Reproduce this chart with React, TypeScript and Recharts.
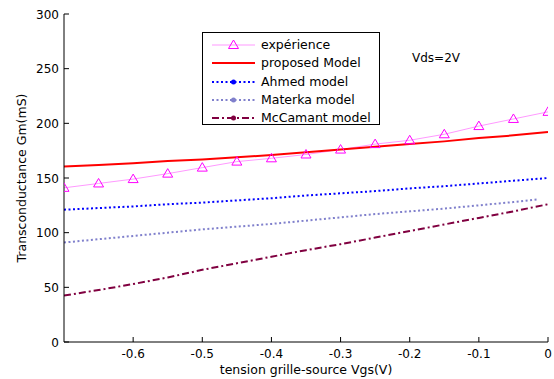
import { LineChart, Line, XAxis, YAxis, Legend } from 'recharts';

const FONT = '"DejaVu Sans", Arial, sans-serif';

// Vgs (V) sample points
const vgs = [-0.7, -0.65, -0.6, -0.55, -0.5, -0.45, -0.4, -0.35, -0.3, -0.25, -0.2, -0.15, -0.1, -0.05, 0];
const materkaVgs = [-0.7, -0.65, -0.6, -0.55, -0.5, -0.45, -0.4, -0.35, -0.3, -0.25, -0.2, -0.15, -0.1, -0.05, -0.015];

// Gm (mS)
const experience = [141, 145, 149, 154, 159.5, 165, 168, 171.5, 176, 181, 184.5, 190, 197.5, 204, 210.5];
const proposed = [160.5, 162, 163.5, 165.5, 167, 169, 171, 173.5, 176, 178.5, 181, 183.5, 186.5, 189, 192];
const ahmed = [121, 122.5, 124, 126, 127.5, 129.5, 131.5, 134, 136, 138, 140.5, 142.5, 145, 147.5, 150];
const materka = [91, 94, 97, 100, 103, 105.5, 108, 111, 114, 117, 119.5, 122, 125, 128, 130.5];
const mccamant = [42.5, 47.5, 53, 59, 66, 72, 78, 84, 89.5, 95.5, 101.5, 107.5, 113.5, 119.5, 126];

const xTicks = [-0.6, -0.5, -0.4, -0.3, -0.2, -0.1, 0];
const yTicks = [0, 50, 100, 150, 200, 250, 300];

const toPoints = (xs: number[], ys: number[]) => xs.map((x, i) => ({ x, y: ys[i] }));

const series = [
  { name: 'expérience', color: '#ff99ff', mark: '#ff00ff', width: 1, dash: undefined, marker: 'tri', data: toPoints(vgs, experience) },
  { name: 'proposed Model', color: '#ff0000', mark: '', width: 2, dash: undefined, marker: 'none', data: toPoints(vgs, proposed) },
  { name: 'Ahmed model', color: '#0000ff', mark: '#0000ff', width: 2, dash: '2 2.5', marker: 'dot', data: toPoints(vgs, ahmed) },
  { name: 'Materka model', color: '#8080cc', mark: '#8080cc', width: 2, dash: '2 2.5', marker: 'dot', data: toPoints(materkaVgs, materka) },
  { name: 'McCamant model', color: '#800040', mark: '#800040', width: 2, dash: '7 3 2 3', marker: 'dot', data: toPoints(vgs, mccamant) },
];

const Triangle = (props: any) => {
  const { cx, cy, stroke } = props;
  if (cx == null || cy == null) return null;
  return (
    <path
      d={`M${cx},${cy - 5} L${cx + 5},${cy + 3.5} L${cx - 5},${cy + 3.5} Z`}
      fill="none"
      stroke={stroke}
      strokeWidth={1}
    />
  );
};

const BottomTick = (props: any) => {
  const { x, y, payload } = props;
  return (
    <g>
      <line x1={x} y1={y} x2={x} y2={y - 5} stroke="#000" />
      <text x={x} y={y + 16} textAnchor="middle" fontSize={12} fontFamily={FONT} fill="#000">
        {String(payload.value)}
      </text>
    </g>
  );
};

const TopTick = (props: any) => {
  const { x, y } = props;
  return <line x1={x} y1={y} x2={x} y2={y + 5} stroke="#000" />;
};

const LeftTick = (props: any) => {
  const { x, y, payload } = props;
  return (
    <g>
      <line x1={x} y1={y} x2={x + 5} y2={y} stroke="#000" />
      <text x={x - 5} y={y + 4.5} textAnchor="end" fontSize={12} fontFamily={FONT} fill="#000">
        {String(payload.value)}
      </text>
    </g>
  );
};

const RightTick = (props: any) => {
  const { x, y } = props;
  return <line x1={x} y1={y} x2={x - 5} y2={y} stroke="#000" />;
};

const YLabel = (props: any) => {
  const { viewBox } = props;
  const cx = viewBox.x + 21;
  const cy = viewBox.y + viewBox.height / 2;
  return (
    <text x={cx} y={cy} transform={`rotate(-90 ${cx} ${cy})`} textAnchor="middle" dominantBaseline="central" fontSize={12.5} fontFamily={FONT} fill="#000">
      Transconductance Gm(mS)
    </text>
  );
};

const XLabel = (props: any) => {
  const { viewBox } = props;
  return (
    <text x={viewBox.x + viewBox.width / 2} y={viewBox.y + 31.5} textAnchor="middle" fontSize={12.5} fontFamily={FONT} fill="#000">
      tension grille-source Vgs(V)
    </text>
  );
};

const LegendBox = () => (
  <div
    style={{
      width: 178,
      height: 93,
      border: '1px solid #000',
      background: '#fff',
      fontFamily: FONT,
      fontSize: 12.5,
      paddingTop: 3,
      boxSizing: 'border-box',
    }}
  >
    {series.map((s) => (
      <div key={s.name} style={{ display: 'flex', alignItems: 'center', height: 18.3, lineHeight: '18.3px' }}>
        <svg width={58} height={18} style={{ flex: 'none' }}>
          <line x1={9} y1={9} x2={52} y2={9} stroke={s.color} strokeWidth={s.width} strokeDasharray={s.dash} />
          {s.marker === 'tri' && <Triangle cx={30.5} cy={9} stroke={s.mark} />}
          {s.marker === 'dot' && <circle cx={30.5} cy={9} r={2.5} fill={s.mark} />}
        </svg>
        <span style={{ whiteSpace: 'nowrap', color: '#000' }}>{s.name}</span>
      </div>
    ))}
  </div>
);

export default function App() {
  return (
    <div style={{ position: 'absolute', left: 0, top: 0, width: 554, height: 379, background: '#fff' }}>
      <LineChart width={554} height={379} margin={{ top: 14, right: 6, left: 0, bottom: 0 }}>
        <XAxis
          xAxisId={0}
          type="number"
          dataKey="x"
          domain={[-0.7, 0]}
          ticks={xTicks}
          allowDataOverflow
          height={37}
          tickSize={0}
          tickMargin={0}
          tick={<BottomTick />}
          axisLine={{ stroke: '#000' }}
          tickLine={false}
          label={<XLabel />}
        />
        <XAxis
          xAxisId="top"
          orientation="top"
          type="number"
          dataKey="x"
          domain={[-0.7, 0]}
          ticks={xTicks}
          allowDataOverflow
          height={0}
          tickSize={0}
          tickMargin={0}
          tick={<TopTick />}
          axisLine={{ stroke: '#000' }}
          tickLine={false}
        />
        <YAxis
          yAxisId={0}
          type="number"
          domain={[0, 300]}
          ticks={yTicks}
          width={64}
          tickSize={0}
          tickMargin={0}
          tick={<LeftTick />}
          axisLine={{ stroke: '#000' }}
          tickLine={false}
          label={<YLabel />}
        />
        <YAxis
          yAxisId="right"
          orientation="right"
          type="number"
          domain={[0, 300]}
          ticks={yTicks}
          width={0}
          tickSize={0}
          tickMargin={0}
          tick={<RightTick />}
          axisLine={{ stroke: '#000' }}
          tickLine={false}
        />
        {series.map((s) => (
          <Line
            key={s.name}
            data={s.data}
            dataKey="y"
            name={s.name}
            type="linear"
            stroke={s.color}
            strokeWidth={s.width}
            strokeDasharray={s.dash}
            dot={s.marker === 'tri' ? <Triangle stroke={s.mark} /> : false}
            activeDot={false}
            isAnimationActive={false}
          />
        ))}
        <Legend
          layout="vertical"
          align="center"
          verticalAlign="middle"
          content={<LegendBox />}
          wrapperStyle={{ position: 'absolute', left: 202, top: 32, width: 180, height: 95 }}
        />
      </LineChart>
      <div style={{ position: 'absolute', left: 412, top: 51, fontFamily: FONT, fontSize: 12, color: '#000' }}>Vds=2V</div>
    </div>
  );
}
